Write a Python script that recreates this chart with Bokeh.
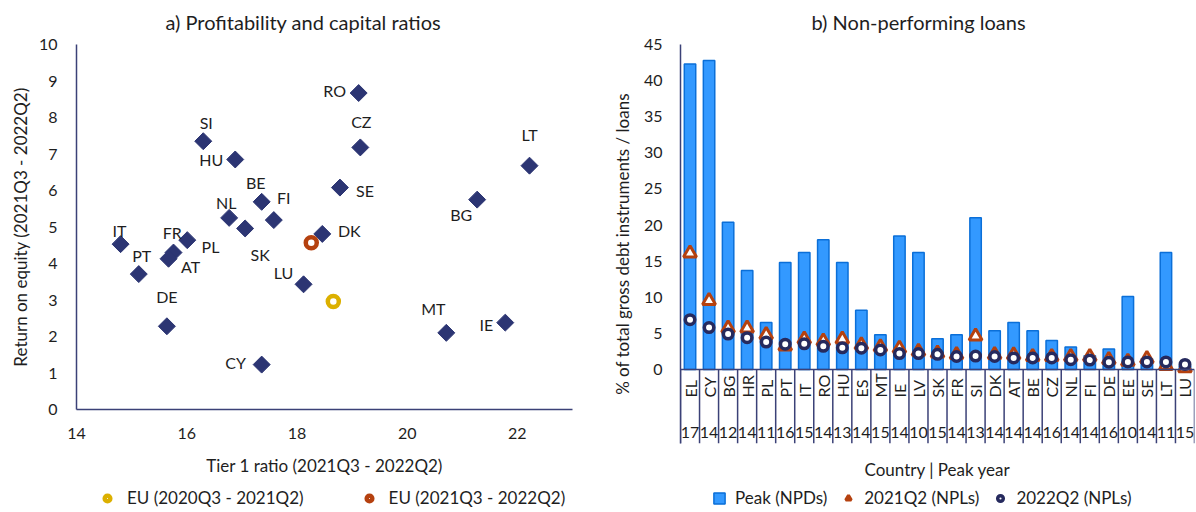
import numpy as np
from bokeh.plotting import figure
from bokeh.models import (Range1d, FixedTicker, Legend, LegendItem, Span, ColumnDataSource)
from bokeh.layouts import row, column
from bokeh.embed import file_html
from bokeh.resources import INLINE
from bokeh.core.properties import value

# ---------------- data: panel a ----------------
countries_a = ["RO", "SI", "CZ", "LT", "HU", "SE", "BG", "BE", "FI", "NL", "SK",
               "DK", "IT", "FR", "PL", "AT", "PT", "LU", "DE", "MT", "IE", "CY"]
tier1_ratio = [19.12, 16.30, 19.15, 22.22, 16.88, 18.78, 21.27, 17.36, 17.58, 16.77, 17.06,
               18.46, 14.80, 16.01, 15.76, 15.67, 15.13, 18.12, 15.64, 20.71, 21.78, 17.36]
return_on_equity = [8.67, 7.35, 7.18, 6.68, 6.85, 6.08, 5.75, 5.69, 5.19, 5.25, 4.96,
                    4.81, 4.53, 4.64, 4.30, 4.13, 3.71, 3.43, 2.28, 2.10, 2.38, 1.23]
eu_labels = ["EU (2020Q3 - 2021Q2)", "EU (2021Q3 - 2022Q2)"]
eu_tier1 = [18.66, 18.26]
eu_roe = [2.96, 4.57]
x_ticks_a = [14, 16, 18, 20, 22]
y_ticks_a = list(range(0, 11))

# ---------------- data: panel b ----------------
countries_b = ["EL", "CY", "BG", "HR", "PL", "PT", "IT", "RO", "HU", "ES", "MT", "IE", "LV", "SK",
               "FR", "SI", "DK", "AT", "BE", "CZ", "NL", "FI", "DE", "EE", "SE", "LT", "LU"]
peak_years = ["17", "14", "12", "14", "11", "16", "15", "14", "13", "14", "15", "14", "10", "15",
              "14", "13", "14", "14", "14", "16", "14", "14", "16", "10", "14", "11", "15"]
peak_npd = [42.3, 42.8, 20.4, 13.7, 6.5, 14.8, 16.2, 17.95, 14.8, 8.2, 4.8, 18.5, 16.2, 4.25,
            4.8, 21.0, 5.35, 6.5, 5.35, 4.0, 3.1, 1.9, 2.85, 10.1, 1.5, 16.2, 0.5]
npl_2021q2 = [16.1, 9.5, 5.7, 5.7, 4.8, 3.2, 4.2, 3.9, 4.2, 3.4, 3.1, 2.9, 2.5, 2.25,
              2.05, 4.6, 2.05, 2.0, 1.75, 1.75, 1.75, 1.75, 1.35, 1.1, 1.5, 0.5, 0.2]
npl_2022q2 = [6.9, 5.8, 4.9, 4.4, 3.8, 3.5, 3.55, 3.2, 3.0, 2.95, 2.7, 2.2, 2.2, 2.1,
              1.8, 1.85, 1.8, 1.6, 1.6, 1.6, 1.35, 1.3, 1.0, 1.05, 1.05, 1.05, 0.7]
legend_labels_b = ["Peak (NPDs)", "2021Q2 (NPLs)", "2022Q2 (NPLs)"]
y_ticks_b = list(range(0, 50, 5))

# ---------------- styling / layout ----------------
FONT = "Lato"
TXT = "#1e1e1e"
NAVY = "#3b4177"
DIAMOND = "#2c3573"
YELLOW = "#dcb000"
RUST = "#b5410f"
BAR_FILL = "#3399ff"
BAR_LINE = "#0b6fd8"
RING = "#262a5e"
FS_TICK = "16px"
FS_LAB = "17px"
FS_TITLE = "20px"
LEG_H = 26

# label offsets for panel a (screen px, relative to point)
lab_dx = [-24, 3, 1, 0, -24, 25, -16, -6, 10, -3, 15, 27, -1, -15, 37, 22, 3, -20, 0, -13, -19, -26]
lab_dy = [-3, -19, -26, -31, 0, 3, 15, -19, -23, -15, 26, -3, -14, -8, -6, 8, -19, -12, -30, -24, 2, -2]


def base_style(p, title_offset):
    p.xgrid.visible = False
    p.ygrid.visible = False
    p.outline_line_color = None
    p.background_fill_color = "white"
    p.border_fill_color = "white"
    for ax in p.axis:
        ax.axis_line_color = NAVY
        ax.axis_line_width = 1.5
        ax.major_tick_out = 0
        ax.major_tick_in = 0
        ax.minor_tick_out = 0
        ax.minor_tick_in = 0
        ax.major_tick_line_color = None
        ax.minor_tick_line_color = None
        ax.major_label_text_font = FONT
        ax.major_label_text_font_size = FS_TICK
        ax.major_label_text_color = TXT
        ax.axis_label_text_font = FONT
        ax.axis_label_text_font_size = FS_LAB
        ax.axis_label_text_font_style = "normal"
        ax.axis_label_text_color = TXT
    p.title.text_font = FONT
    p.title.text_font_size = FS_TITLE
    p.title.text_font_style = "normal"
    p.title.text_color = TXT
    p.title.align = "left"
    p.title.offset = title_offset
    p.title.vertical_align = "top"
    p.title.standoff = 18


def legend_figure(width, start_x, items, spacing, standoff):
    # legend strip; its frame lines up with the chart frame above it in the column
    f = figure(width=width, height=LEG_H, x_range=Range1d(0, 1), y_range=Range1d(0, 1),
               output_backend="svg", toolbar_location=None,
               x_axis_location=None, y_axis_location=None,
               min_border_left=0, min_border_right=0, min_border_top=0, min_border_bottom=0)
    f.xgrid.visible = False
    f.ygrid.visible = False
    f.outline_line_color = None
    leg_items = []
    for label, kind, kw in items:
        if kind == "bar":
            r = f.vbar(x=[np.nan], top=[np.nan], width=0.1, **kw)
        else:
            r = f.scatter(x=[np.nan], y=[np.nan], marker=kind, **kw)
        leg_items.append(LegendItem(label=label, renderers=[r]))
    leg = Legend(items=leg_items, orientation="horizontal", location=(start_x, 4),
                 label_text_font=FONT, label_text_font_size=FS_LAB, label_text_color=TXT,
                 glyph_width=14, glyph_height=14, label_height=16, label_standoff=standoff,
                 spacing=spacing, padding=0, margin=0,
                 border_line_color=None, background_fill_alpha=0)
    f.add_layout(leg)
    return f


# ---------------- panel a ----------------
p1 = figure(width=600, height=512 - LEG_H, x_range=Range1d(14, 23), y_range=Range1d(0, 10),
            output_backend="svg", toolbar_location=None,
            min_border_left=76, min_border_right=28, min_border_top=44,
            min_border_bottom=512 - LEG_H - 409,
            title="a) Profitability and capital ratios")
base_style(p1, 89)
p1.xaxis.ticker = FixedTicker(ticks=x_ticks_a)
p1.yaxis.ticker = FixedTicker(ticks=y_ticks_a)
p1.xaxis.major_label_standoff = 18
p1.yaxis.major_label_standoff = 19
p1.xaxis.axis_label = "Tier 1 ratio (2021Q3 - 2022Q2)"
p1.xaxis.axis_label_standoff = 13
p1.yaxis.axis_label = "Return on equity (2021Q3 - 2022Q2)"
p1.yaxis.axis_label_standoff = 5

src_a = ColumnDataSource(dict(x=tier1_ratio, y=return_on_equity, t=countries_a, dx=lab_dx, dy=lab_dy))
p1.scatter("x", "y", source=src_a, marker="square", angle=np.pi / 4, size=12,
           fill_color=DIAMOND, line_color=DIAMOND)
p1.text("x", "y", text="t", source=src_a, x_offset="dx", y_offset="dy",
        text_align="center", text_baseline="middle", text_font=value(FONT),
        text_font_size=FS_TICK, text_color=TXT)
p1.scatter([eu_tier1[0]], [eu_roe[0]], marker="circle", size=11, fill_color="white",
           line_color=YELLOW, line_width=4.5)
p1.scatter([eu_tier1[1]], [eu_roe[1]], marker="circle", size=11, fill_color="white",
           line_color=RUST, line_width=4.5)

l1 = legend_figure(600, 24, [
    (eu_labels[0], "circle", dict(size=11, fill_color="white", line_color=YELLOW, line_width=4.5)),
    (eu_labels[1], "circle", dict(size=11, fill_color="white", line_color=RUST, line_width=4.5)),
], 58, 13)

# ---------------- panel b ----------------
n = len(countries_b)
centers = [i + 0.5 for i in range(n)]
bounds = list(range(n + 1))
Y_BOTTOM = -10.25
COUNTRY_Y = -3.88
YEAR_Y = -8.7

p2 = figure(width=596, height=512 - LEG_H, x_range=Range1d(0, n), y_range=Range1d(Y_BOTTOM, 45),
            output_backend="svg", toolbar_location=None,
            min_border_left=80, min_border_right=2, min_border_top=44,
            min_border_bottom=512 - LEG_H - 443,
            title="b) Non-performing loans")
base_style(p2, 131)
p2.yaxis.ticker = FixedTicker(ticks=y_ticks_b)
p2.yaxis.major_label_standoff = 18
p2.yaxis.axis_label = "% of total gross debt instruments / loans"
p2.yaxis.axis_label_standoff = 8
p2.xaxis.ticker = FixedTicker(ticks=[])
p2.xaxis.axis_line_color = None
p2.xaxis.axis_label = "Country | Peak year"
p2.xaxis.axis_label_standoff = 15

src_b = ColumnDataSource(dict(x=centers, peak=peak_npd, q21=npl_2021q2, q22=npl_2022q2,
                              c=countries_b, yr=peak_years))
p2.vbar(x="x", top="peak", width=0.6, bottom=0, source=src_b,
        fill_color=BAR_FILL, line_color=BAR_LINE, line_width=1.5)
p2.scatter("x", "q21", source=src_b, marker="triangle", size=13,
           fill_color="white", line_color=RUST, line_width=3)
p2.scatter("x", "q22", source=src_b, marker="circle", size=9.5,
           fill_color="white", line_color=RING, line_width=3.5)
p2.add_layout(Span(location=0, dimension="width", line_color=NAVY, line_width=1.5))
p2.segment(x0=bounds, y0=[0] * len(bounds), x1=bounds, y1=[Y_BOTTOM] * len(bounds),
           line_color=NAVY, line_width=1.5)
p2.text(x="x", y=COUNTRY_Y, text="c", source=src_b, angle=np.pi / 2,
        text_align="left", text_baseline="middle", text_font=value(FONT),
        text_font_size=FS_TICK, text_color=TXT)
p2.text(x="x", y=YEAR_Y, text="yr", source=src_b,
        text_align="center", text_baseline="middle", text_font=value(FONT),
        text_font_size=FS_TICK, text_color=TXT)

l2 = legend_figure(596, 32, [
    (legend_labels_b[0], "bar", dict(fill_color=BAR_FILL, line_color=BAR_LINE, line_width=1.5)),
    (legend_labels_b[1], "triangle", dict(size=12, fill_color="white", line_color=RUST, line_width=3)),
    (legend_labels_b[2], "circle", dict(size=9.5, fill_color="white", line_color=RING, line_width=3.5)),
], 14, 9)

layout = row(column(p1, l1), column(p2, l2))
open("out.html", "w").write(file_html(layout, INLINE))
